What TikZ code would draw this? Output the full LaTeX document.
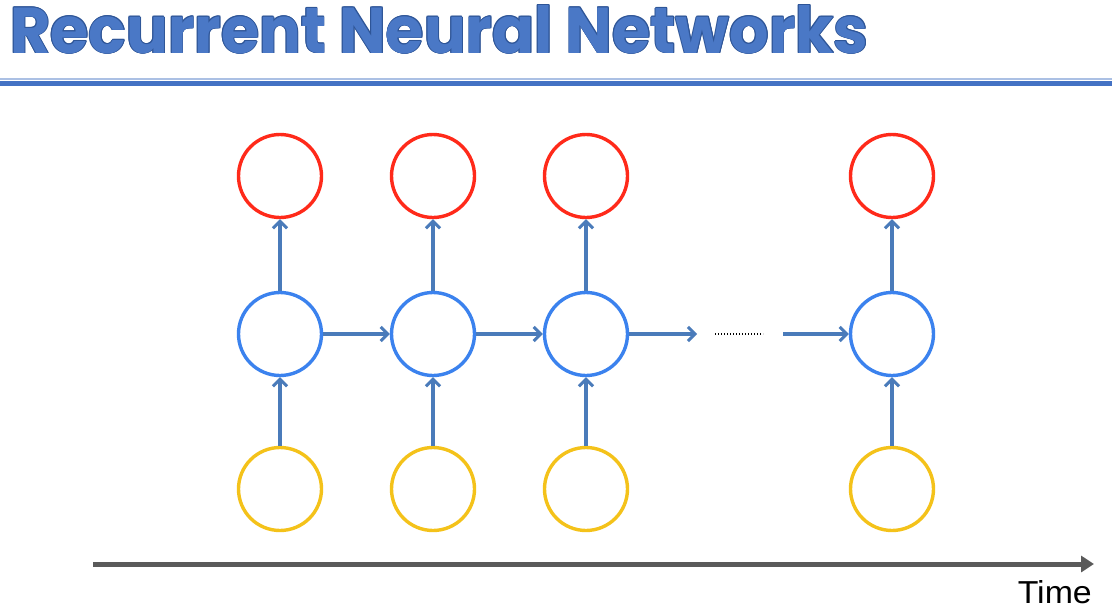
\documentclass[tikz,border=0pt]{standalone}
\usepackage{fontspec}
\setmainfont{Liberation Sans}
\newfontfamily\headfont{Poppins Bold}
\usetikzlibrary{arrows.meta}
\definecolor{headblue}{HTML}{4A78C6}
\definecolor{headedge}{HTML}{2E5597}
\definecolor{rulecol}{HTML}{4472C4}
\definecolor{outred}{HTML}{FF2A1A}
\definecolor{hidblue}{HTML}{3B82EE}
\definecolor{inyellow}{HTML}{F4C21A}
\definecolor{linkblue}{HTML}{4A7BBA}
\definecolor{axisgray}{HTML}{5A5A5A}
\tikzset{
  unit/.style={circle, draw=#1, line width=3.4pt, minimum size=83pt, inner sep=0pt, fill=white},
  link/.style={draw=linkblue, line width=3.2pt, -{Straight Barb[length=7pt, width=14pt, line width=3pt]}},
  headtext/.style={anchor=base west, inner sep=0pt, text=#1},
}
\newcommand{\headline}{\resizebox{858pt}{48pt}{\headfont Recurrent Neural Networks}}
\begin{document}
\begin{tikzpicture}[x=1pt, y=-1pt]
\useasboundingbox (0,0) rectangle (1112,616);
\fill[white] (0,0) rectangle (1112,616);

% title with a thin darker edge
\foreach \dx/\dy in {-0.9/0,0.9/0,0/-0.9,0/0.9,-0.7/-0.7,0.7/0.7,-0.7/0.7,0.7/-0.7}
  \node[headtext=headedge] at (10+\dx,53+\dy) {\headline};
\node[headtext=headblue] (title) at (10,53) {\headline};

% rule under the title
\draw[rulecol!45, line width=1.2pt] (0,79) -- (1112,79);
\draw[rulecol, line width=5pt] (0,83) -- (1112,83);

% units: outputs (top), hidden states (middle), inputs (bottom)
\foreach \i/\x in {1/280,2/433,3/586,4/892} {
  \node[unit=outred]   (y\i) at (\x,176) {};
  \node[unit=hidblue]  (h\i) at (\x,334) {};
  \node[unit=inyellow] (x\i) at (\x,489) {};
}

% input -> hidden -> output
\foreach \i in {1,2,3,4} {
  \draw[link] (x\i) -- (h\i);
  \draw[link] (h\i) -- (y\i);
}

% recurrence through time
\draw[link] (h1) -- (h2);
\draw[link] (h2) -- (h3);
\coordinate (gapL) at (697,334);
\coordinate (gapR) at (783,334);
\draw[link] (h3) -- (gapL);
\draw[link] (gapR) -- (h4);
\coordinate (dotsL) at (715,334);
\coordinate (dotsR) at (763,334);
\draw[black, line width=1.6pt, dash pattern=on 1.4pt off 1.6pt] (dotsL) -- (dotsR);

% time axis
\coordinate (t0) at (93,564);
\coordinate (t1) at (1094,564);
\draw[axisgray, line width=5pt, -{Triangle[length=13pt, width=16pt]}] (t0) -- (t1);
\node[anchor=base east, inner sep=0pt] (time) at (1092,603) {\resizebox{74pt}{23pt}{Time}};
\end{tikzpicture}
\end{document}
